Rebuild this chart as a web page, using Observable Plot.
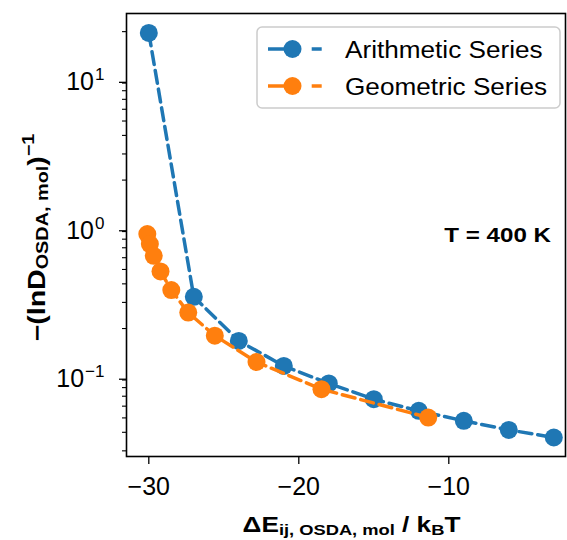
<!DOCTYPE html>
<html>
<head>
<meta charset="utf-8">
<script src="https://cdn.jsdelivr.net/npm/d3@7"></script>
<script src="https://cdn.jsdelivr.net/npm/@observablehq/plot@0.6"></script>
<style>
  html, body { margin: 0; padding: 0; background: white; }
  svg { display: block; }
</style>
</head>
<body>
<script>
// ---- Data ----
const seriesNames = ["Arithmetic Series", "Geometric Series"];
const seriesColors = ["#1f77b4", "#ff7f0e"];

const arithX = [-30, -27, -24, -21, -18, -15, -12, -9, -6, -3];
const arithY = [19.6, 0.327, 0.165, 0.112, 0.0853, 0.0668, 0.0558, 0.0478, 0.0415, 0.0369];

const geoX = [-30.1, -29.93, -29.67, -29.22, -28.5, -27.37, -25.6, -22.82, -18.49, -11.37];
const geoY = [0.866, 0.741, 0.618, 0.485, 0.363, 0.256, 0.179, 0.119, 0.0781, 0.0503];

const xTicks = [-30, -20, -10];
const yMajorTicks = [0.1, 1, 10];
const yMinorTicks = [0.03, 0.04, 0.05, 0.06, 0.07, 0.08, 0.09,
                     0.2, 0.3, 0.4, 0.5, 0.6, 0.7, 0.8, 0.9,
                     2, 3, 4, 5, 6, 7, 8, 9, 20];
const annotation = "T = 400 K";

const arith = arithX.map((x, i) => ({x, y: arithY[i]}));
const geo = geoX.map((x, i) => ({x, y: geoY[i]}));

const FONT = "'Liberation Sans', Arial, Helvetica, sans-serif";

const svg = Plot.plot({
  width: 567,
  height: 540,
  marginLeft: 126,
  marginRight: 2,
  marginTop: 13,
  marginBottom: 84,
  style: {fontFamily: FONT, fontSize: "25px", color: "black", background: "white"},
  x: {domain: [-31.487, -2.22]},
  y: {type: "log", domain: [0.02748, 26.5]},
  marks: [
    Plot.axisX({ticks: xTicks, tickSize: 8, tickPadding: 13, strokeWidth: 1.3,
      tickFormat: d => "\u2212" + Math.abs(d), label: null, fontSize: 25}),
    Plot.axisY({ticks: yMajorTicks, tickSize: 7, tickPadding: 15, strokeWidth: 1.3, dy: 6,
      tickFormat: d => "10^" + Math.round(Math.log10(d)), label: null, fontSize: 25}),
    Plot.axisY({ticks: yMinorTicks, tickSize: 4, strokeWidth: 1.1,
      tickFormat: () => "", label: null}),
    Plot.line(arith, {x: "x", y: "y", stroke: seriesColors[0], strokeWidth: 3.5, strokeDasharray: "13,6"}),
    Plot.dot(arith, {x: "x", y: "y", r: 9, fill: seriesColors[0], stroke: "none"}),
    Plot.line(geo, {x: "x", y: "y", stroke: seriesColors[1], strokeWidth: 3.5, strokeDasharray: "13,6"}),
    Plot.dot(geo, {x: "x", y: "y", r: 9, fill: seriesColors[1], stroke: "none"}),
    Plot.frame({stroke: "black", strokeWidth: 1.6})
  ]
});
document.body.appendChild(svg);

// superscripts on log tick labels
svg.querySelectorAll("text").forEach(t => {
  const s = t.textContent;
  const m = /^10\^(-?\d+)$/.exec(s);
  if (!m) return;
  t.textContent = "";
  const e = m[1].replace("-", "\u2212");
  const base = document.createElementNS("http://www.w3.org/2000/svg", "tspan");
  base.textContent = "10";
  const sup = document.createElementNS("http://www.w3.org/2000/svg", "tspan");
  sup.textContent = e;
  sup.setAttribute("font-size", "17");
  sup.setAttribute("dy", "-10");
  sup.setAttribute("dx", "1");
  t.appendChild(base);
  t.appendChild(sup);
});

const root = d3.select(svg);

// x-axis label
{
  const g = root.append("g").attr("transform", "translate(351.5,532) scale(1.19,1)")
    .attr("font-family", FONT).attr("font-weight", "bold").attr("fill", "black");
  const t = g.append("text").attr("text-anchor", "middle").attr("font-size", 22);
  t.append("tspan").text("\u0394E");
  t.append("tspan").attr("font-size", 15.4).attr("dy", 3).text("ij, OSDA, mol");
  t.append("tspan").attr("dy", -3).text(" / k");
  t.append("tspan").attr("font-size", 15.4).attr("dy", 3).text("B");
  t.append("tspan").attr("dy", -3).text("T");
}

// y-axis label
{
  const g = root.append("g").attr("transform", "translate(45,237.5) rotate(-90) scale(1.24,1)")
    .attr("font-family", FONT).attr("font-weight", "bold").attr("fill", "black");
  const t = g.append("text").attr("text-anchor", "middle").attr("font-size", 23);
  t.append("tspan").text("\u2212(lnD");
  t.append("tspan").attr("font-size", 16).attr("dy", 3).text("OSDA, mol");
  t.append("tspan").attr("dy", -3).text(")");
  t.append("tspan").attr("font-size", 16).attr("dy", -11).text("\u22121");
}

// annotation
root.append("g").attr("transform", "translate(551,242) scale(1.15,1)")
  .append("text").attr("text-anchor", "end").attr("font-family", FONT)
  .attr("font-weight", "bold").attr("font-size", 21).attr("fill", "black").text(annotation);

// legend
{
  const lg = root.append("g");
  lg.append("rect").attr("x", 257).attr("y", 27).attr("width", 303).attr("height", 81)
    .attr("rx", 5).attr("fill", "white").attr("fill-opacity", 0.8)
    .attr("stroke", "#cccccc").attr("stroke-width", 1.5);
  const rowsY = [49, 86];
  seriesNames.forEach((name, i) => {
    const y = rowsY[i];
    lg.append("path").attr("d", `M268,${y}H322`).attr("stroke", seriesColors[i])
      .attr("stroke-width", 3.5).attr("stroke-dasharray", "19,24.7,10").attr("fill", "none");
    lg.append("circle").attr("cx", 292.5).attr("cy", y).attr("r", 9).attr("fill", seriesColors[i]);
    lg.append("g").attr("transform", `translate(345,${y + 8.5}) scale(1.09,1)`)
      .append("text").attr("text-anchor", "start").attr("font-family", FONT)
      .attr("font-size", 24).attr("fill", "black").text(name);
  });
}
</script>
</body>
</html>
